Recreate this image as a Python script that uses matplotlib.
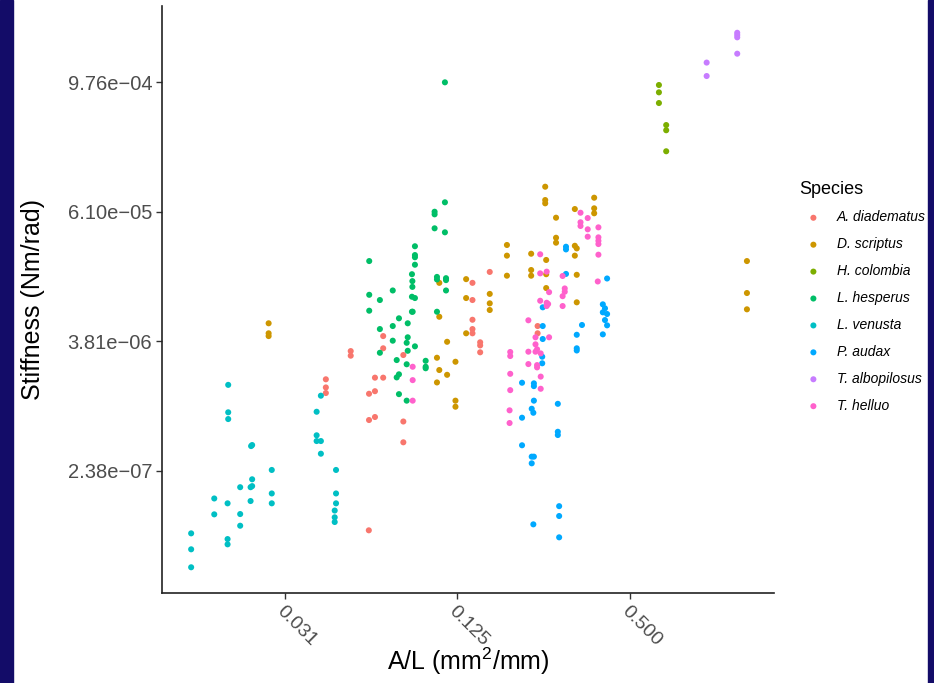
import matplotlib
matplotlib.use("Agg")
import matplotlib.pyplot as plt
from matplotlib.patches import Rectangle

plt.rcParams['font.family'] = ['Liberation Sans', 'DejaVu Sans']
plt.rcParams['mathtext.default'] = 'regular'

# A/L (mm^2/mm) and stiffness (Nm/rad)
a_diadematus_x = [0.0434, 0.0434, 0.0434, 0.0530, 0.0530, 0.0614, 0.0614, 0.0613, 0.0644, 0.0644,
                  0.0644, 0.0688, 0.0688, 0.0688, 0.0809, 0.0809, 0.0809, 0.141, 0.141, 0.141,
                  0.141, 0.141, 0.150, 0.150, 0.150, 0.162, 0.238, 0.238]
a_diadematus_y = [1.69e-6, 1.42e-6, 1.26e-6, 3.09e-6, 2.80e-6, 1.24e-6, 7.07e-7, 6.68e-8, 1.75e-6, 1.31e-6,
                  7.54e-7, 4.26e-6, 3.28e-6, 1.75e-6, 2.84e-6, 6.85e-7, 4.39e-7, 1.33e-5, 9.21e-6, 6.04e-6,
                  4.95e-6, 4.52e-6, 3.73e-6, 3.49e-6, 3.01e-6, 1.68e-5, 5.28e-6, 4.52e-6]

d_scriptus_x = [0.0274, 0.0274, 0.0274, 0.108, 0.134, 0.134, 0.162, 0.162, 0.162,
                0.108, 0.134, 0.115, 0.106, 0.123, 0.108, 0.115, 0.106, 0.123, 0.123,
                0.253, 0.253, 0.253, 0.276, 0.375, 0.375, 0.375, 0.321, 0.276, 0.276,
                0.186, 0.186, 0.186, 0.226, 0.226, 0.226, 0.255, 0.255, 0.255, 0.321, 0.326, 0.321, 0.326, 0.326,
                1.28, 1.28, 1.28]
d_scriptus_y = [5.60e-6, 4.52e-6, 4.26e-6, 1.33e-5, 1.44e-5, 9.61e-6, 1.05e-5, 8.58e-6, 7.44e-6,
                6.44e-6, 4.52e-6, 3.77e-6, 2.68e-6, 2.46e-6, 2.06e-6, 1.86e-6, 1.58e-6, 1.07e-6, 9.40e-7,
                1.04e-4, 7.82e-5, 7.29e-5, 5.36e-5, 8.22e-5, 6.55e-5, 5.89e-5, 6.45e-5, 3.49e-5, 3.14e-5,
                2.99e-5, 2.38e-5, 1.55e-5, 2.48e-5, 1.75e-5, 1.55e-5, 2.17e-5, 1.60e-5, 1.19e-5, 2.94e-5, 2.78e-5, 2.38e-5, 1.58e-5, 8.77e-6,
                2.12e-5, 1.07e-5, 7.55e-6]

h_colombia_x = [0.631, 0.631, 0.631, 0.669, 0.669, 0.669]
h_colombia_y = [9.16e-4, 7.83e-4, 6.23e-4, 3.89e-4, 3.48e-4, 2.22e-4]

l_hesperus_x = [0.113, 0.113, 0.104, 0.104, 0.104, 0.113, 0.0888, 0.0888, 0.0888, 0.0888,
                0.0615, 0.0867, 0.0870, 0.0870, 0.106, 0.106, 0.114, 0.114, 0.114, 0.0743,
                0.0615, 0.0670, 0.0867, 0.0888, 0.0615, 0.0867, 0.0872, 0.106, 0.0781, 0.0743,
                0.0838, 0.0670, 0.0838, 0.0831, 0.0743, 0.0888, 0.0670, 0.0767, 0.0831, 0.0968,
                0.0968, 0.0968, 0.0781, 0.0767, 0.0781, 0.0831, 0.0838]
l_hesperus_y = [9.70e-4, 7.45e-5, 6.09e-5, 5.76e-5, 4.27e-5, 3.92e-5, 2.91e-5, 2.41e-5, 2.30e-5, 1.96e-5,
                2.12e-5, 1.60e-5, 1.38e-5, 1.22e-5, 1.51e-5, 1.43e-5, 1.47e-5, 1.41e-5, 1.13e-5, 1.13e-5,
                1.03e-5, 9.21e-6, 9.88e-6, 9.61e-6, 7.33e-6, 7.17e-6, 7.17e-6, 7.17e-6, 6.23e-6, 5.28e-6,
                5.60e-6, 4.95e-6, 4.15e-6, 3.69e-6, 3.86e-6, 3.42e-6, 2.98e-6, 2.55e-6, 2.33e-6, 2.51e-6,
                2.21e-6, 2.14e-6, 1.88e-6, 1.76e-6, 1.23e-6, 1.07e-6, 3.11e-6]

l_venusta_x = [0.0147, 0.0147, 0.0147, 0.0177, 0.0177, 0.0197, 0.0197, 0.0197, 0.0198, 0.0198,
               0.0198, 0.0218, 0.0218, 0.0218, 0.0238, 0.0240, 0.0240, 0.0240, 0.0237, 0.0237,
               0.0281, 0.0281, 0.0281, 0.0403, 0.0417, 0.0403, 0.0403, 0.0417, 0.0417, 0.0471,
               0.0471, 0.0471, 0.0466, 0.0466, 0.0466]
l_venusta_y = [6.26e-8, 4.45e-8, 3.03e-8, 1.32e-7, 9.40e-8, 1.19e-7, 5.54e-8, 4.95e-8, 1.50e-6, 8.34e-7,
               7.22e-7, 1.68e-7, 9.46e-8, 7.37e-8, 4.05e-7, 4.14e-7, 1.99e-7, 1.72e-7, 1.68e-7, 1.25e-7,
               2.43e-7, 1.47e-7, 1.19e-7, 8.44e-7, 1.19e-6, 5.10e-7, 4.51e-7, 4.51e-7, 3.44e-7, 2.43e-7,
               1.47e-7, 1.19e-7, 1.02e-7, 8.82e-8, 7.98e-8]

p_audax_x = [0.299, 0.299, 0.299, 0.416, 0.248, 0.402, 0.409, 0.402, 0.416, 0.409,
             0.416, 0.340, 0.248, 0.326, 0.402, 0.248, 0.326, 0.326, 0.247, 0.247,
             0.210, 0.231, 0.231, 0.231, 0.280, 0.227, 0.230, 0.210, 0.280, 0.280,
             0.210, 0.227, 0.231, 0.227, 0.283, 0.283, 0.230, 0.283]
p_audax_y = [2.88e-5, 2.72e-5, 1.61e-5, 1.46e-5, 7.88e-6, 8.40e-6, 7.71e-6, 7.08e-6, 6.83e-6, 6.00e-6,
             5.36e-6, 5.40e-6, 5.28e-6, 4.38e-6, 4.42e-6, 4.00e-6, 3.28e-6, 3.13e-6, 2.74e-6, 2.38e-6,
             1.57e-6, 1.55e-6, 1.46e-6, 1.07e-6, 1.00e-6, 9.00e-7, 8.26e-7, 7.43e-7, 5.50e-7, 5.13e-7,
             4.12e-7, 3.23e-7, 3.23e-7, 2.80e-7, 1.12e-7, 9.07e-8, 7.59e-8, 5.75e-8]

t_albopilosus_x = [1.184, 1.184, 1.184, 1.184, 0.926, 0.926]
t_albopilosus_y = [2.80e-3, 2.67e-3, 2.54e-3, 1.79e-3, 1.48e-3, 1.11e-3]

t_helluo_x = [0.0872, 0.0872, 0.0872,
              0.336, 0.356, 0.336, 0.336, 0.356, 0.356, 0.388, 0.388, 0.388, 0.388, 0.388, 0.386,
              0.243, 0.243, 0.256, 0.291, 0.296, 0.296, 0.291, 0.261, 0.243, 0.256, 0.259, 0.256, 0.291,
              0.221, 0.234, 0.261, 0.234, 0.191, 0.191, 0.221, 0.234, 0.237, 0.244, 0.237, 0.237,
              0.221, 0.191, 0.244, 0.191, 0.244, 0.190, 0.190]
t_helluo_y = [2.21e-6, 1.66e-6, 1.07e-6,
              5.96e-5, 5.32e-5, 4.86e-5, 4.49e-5, 4.18e-5, 3.57e-5, 4.36e-5, 3.52e-5, 3.27e-5, 3.05e-5, 2.43e-5, 1.37e-5,
              2.45e-5, 1.63e-5, 1.69e-5, 1.54e-5, 1.18e-5, 1.10e-5, 1.00e-5, 1.09e-5, 9.07e-6, 8.69e-6, 8.46e-6, 8.10e-6, 8.10e-6,
              5.97e-6, 4.15e-6, 4.15e-6, 3.57e-6, 3.03e-6, 2.78e-6, 3.05e-6, 3.05e-6, 3.21e-6, 2.94e-6, 2.29e-6, 2.18e-6,
              2.34e-6, 1.90e-6, 1.79e-6, 1.34e-6, 1.38e-6, 8.70e-7, 6.63e-7]

species = ['A. diadematus', 'D. scriptus', 'H. colombia', 'L. hesperus',
           'L. venusta', 'P. audax', 'T. albopilosus', 'T. helluo']
xs = [a_diadematus_x, d_scriptus_x, h_colombia_x, l_hesperus_x,
      l_venusta_x, p_audax_x, t_albopilosus_x, t_helluo_x]
ys = [a_diadematus_y, d_scriptus_y, h_colombia_y, l_hesperus_y,
      l_venusta_y, p_audax_y, t_albopilosus_y, t_helluo_y]
colors = ['#F8766D', '#CD9600', '#7CAE00', '#00BE67',
          '#00BFC4', '#00A9FF', '#C77CFF', '#FF61CC']

x_ticks = [2**-5, 2**-3, 2**-1]
x_ticklabels = ['0.031', '0.125', '0.500']
y_ticks = [2**-22, 2**-18, 2**-14, 2**-10]
y_ticklabels = ['2.38e\u221207', '3.81e\u221206', '6.10e\u221205', '9.76e\u221204']

fig = plt.figure(figsize=(9.34, 6.83), dpi=100)
ax = fig.add_axes([162/934, 1 - 593/683, (774 - 162)/934, (593 - 6)/683])

for sx, sy, name, c in zip(xs, ys, species, colors):
    ax.scatter(sx, sy, s=19, color=c, edgecolors='none', label=name, zorder=3)

ax.set_xscale('log', base=2)
ax.set_yscale('log', base=2)
ax.set_xlim(2**-6.426, 2**0.670)
ax.set_ylim(2**-25.77, 2**-7.654)
ax.minorticks_off()
ax.set_xticks(x_ticks)
ax.set_xticklabels(x_ticklabels, rotation=-45, ha='left', va='top',
                   rotation_mode='anchor', fontsize=14, color='#4D4D4D')
ax.set_yticks(y_ticks)
ax.set_yticklabels(y_ticklabels, fontsize=14.5, color='#4D4D4D')

for side in ['top', 'right']:
    ax.spines[side].set_visible(False)
for side in ['left', 'bottom']:
    ax.spines[side].set_linewidth(1.2)
    ax.spines[side].set_color('#222222')
ax.tick_params(length=4, width=1, color='#333333', pad=3)

ax.set_xlabel('A/L (mm$^{2}$/mm)', fontsize=18, va='center')
ax.xaxis.set_label_coords(0.5, (593 - 661) / 587)
ax.set_ylabel('Stiffness (Nm/rad)', fontsize=18, va='center')
ax.yaxis.set_label_coords((33 - 162) / 612, 0.5)

leg = ax.legend(loc='upper left', bbox_to_anchor=(787/934, 1 - 168/683),
                bbox_transform=fig.transFigure, frameon=False, title='Species',
                prop={'style': 'italic', 'size': 10}, title_fontsize=13,
                alignment='left', labelspacing=0.93, handletextpad=0.7,
                markerscale=1.0, scatterpoints=1)

# dark frame strips at the sides
fig.patches.append(Rectangle((0, 0), 13/934, 1, transform=fig.transFigure,
                             color='#130C68', zorder=0))
fig.patches.append(Rectangle((928/934, 0), 6/934, 1, transform=fig.transFigure,
                             color='#130C68', zorder=0))

fig.savefig('out.png', dpi=100)
